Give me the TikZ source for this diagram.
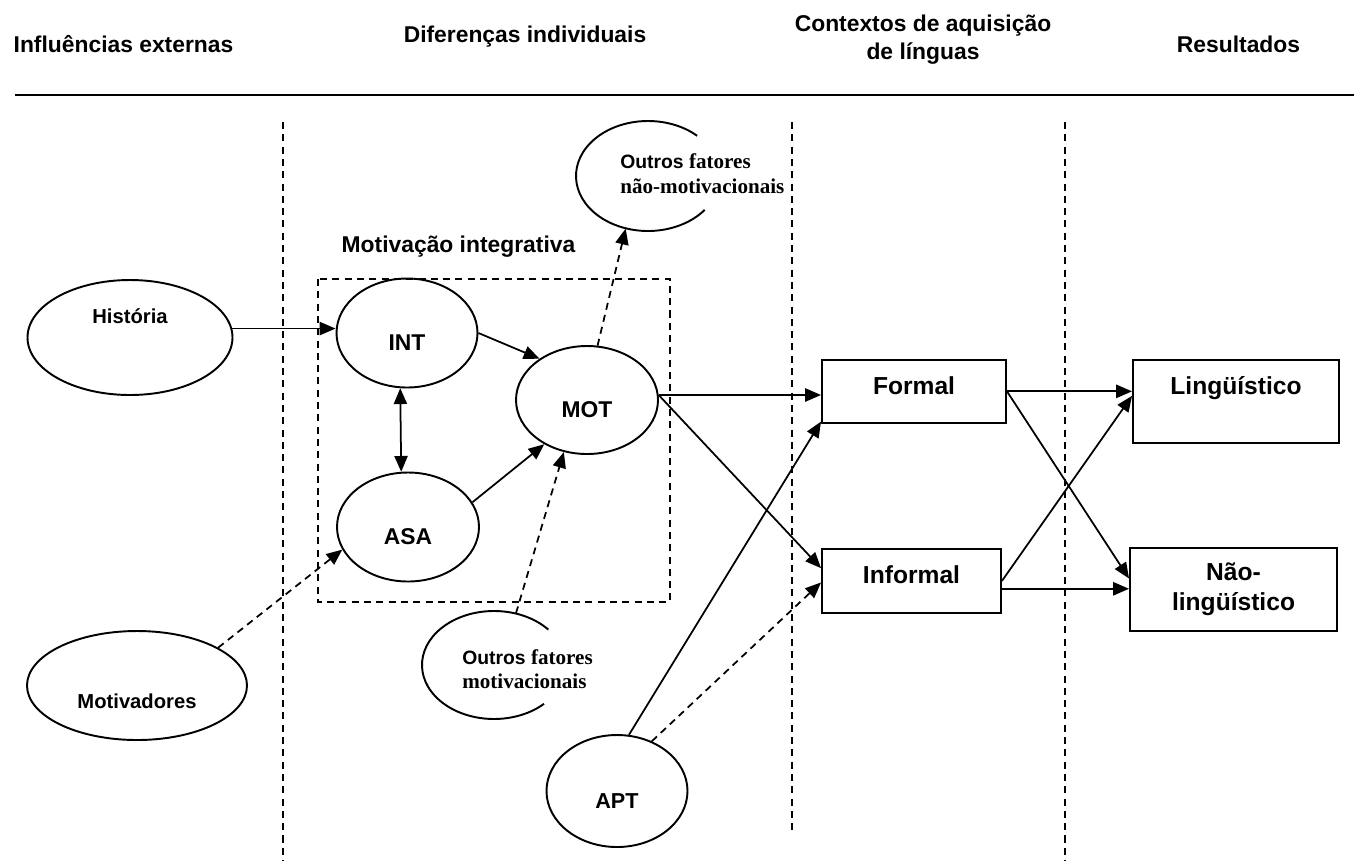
\documentclass[tikz,border=0pt]{standalone}
\usepackage{fontspec}
\setmainfont{Liberation Sans}
\newfontfamily\timesfont{Liberation Serif}
\usepackage{tikz}
\usetikzlibrary{arrows.meta, shapes.geometric, positioning}

\begin{document}
\begin{tikzpicture}
\tikzstyle{vertex} = [
	shape=ellipse,
	draw=black, %draw the border of the node
	line width=1.1pt,
	inner sep=0pt,
	font=\bfseries\fontsize{13}{15}\selectfont,
	text height=20pt, %label sits a bit below the centre
	text depth=0pt
];
\tikzstyle{context} = [
	shape=rectangle,
	draw=black,
	line width=1.1pt,
	inner sep=0pt,
	anchor=north,
	font=\bfseries\fontsize{14}{17}\selectfont
];
\tikzstyle{heading} = [
	anchor=base,
	font=\bfseries\fontsize{13}{16}\selectfont
];
\tikzstyle{others} = [
	anchor=west,
	align=left,
	inner sep=0pt,
	font=\bfseries\fontsize{11}{14}\selectfont
];
\tikzstyle{separator} = [
	line width=1pt,
	dash pattern=on 4pt off 3pt
];
\tikzstyle{influence} = [
	-{Triangle[length=9pt,width=7.5pt]},
	line width=1pt,
	color=black
];

\useasboundingbox (0,0) rectangle (27.08,-17.22);

%column headings
\node[heading](hInf) at (2.47,-1.04) {Influências externas};
\node[heading](hDif) at (10.50,-0.84) {Diferenças individuais};
\node[heading, anchor=center, align=center](hCon) at (18.46,-0.80) {Contextos de aquisição\\de línguas};
\node[heading](hRes) at (24.77,-1.04) {Resultados};
\draw[line width=1.1pt] (0.30,-1.90) -- (27.08,-1.90);

%column separators
\draw[separator] (5.66,-2.44) -- (5.66,-17.22);
\draw[separator] (15.84,-2.44) -- (15.84,-16.70);
\draw[separator] (21.30,-2.44) -- (21.30,-17.22);

%integrative motivation
\draw[separator] (6.36,-5.58) rectangle (13.40,-12.04);
\node[heading](grupo) at (9.17,-5.04) {Motivação integrativa};

\node[vertex, minimum width=4.10cm, minimum height=2.30cm, text height=0pt, text depth=15.6pt, font=\bfseries\fontsize{11.5}{14}\selectfont](historia) at (2.60,-6.75) {História};
\node[vertex, minimum width=4.40cm, minimum height=2.18cm, text height=26pt, font=\bfseries\fontsize{11.5}{14}\selectfont](motivadores) at (2.74,-13.71) {Motivadores};
\node[vertex, minimum width=2.82cm, minimum height=2.18cm](int) at (8.14,-6.66) {INT};
\node[vertex, minimum width=2.84cm, minimum height=2.18cm](asa) at (8.16,-10.54) {ASA};
\node[vertex, minimum width=2.84cm, minimum height=2.16cm](mot) at (11.74,-8.00) {MOT};
\node[vertex, minimum width=2.82cm, minimum height=2.24cm, font=\bfseries\fontsize{12.3}{15}\selectfont](apt) at (12.34,-15.82) {APT};

%open ellipses
\node[shape=ellipse, minimum width=2.88cm, minimum height=2.20cm, inner sep=0pt](outrosNM) at (12.96,-3.52) {};
\draw[line width=1.1pt] (outrosNM.center) ++(47:1.44cm and 1.10cm) arc[start angle=47, end angle=322, x radius=1.44cm, y radius=1.10cm];
\node[others](outrosNMtxt) at (12.40,-3.47) {Outros {\timesfont\fontsize{12}{14}\selectfont fatores}\\{\timesfont\fontsize{12}{14}\selectfont não-motivacionais}};

\node[shape=ellipse, minimum width=2.88cm, minimum height=2.16cm, inner sep=0pt](outrosM) at (9.88,-13.30) {};
\draw[line width=1.1pt] (outrosM.center) ++(41:1.44cm and 1.08cm) arc[start angle=41, end angle=314, x radius=1.44cm, y radius=1.08cm];
\node[others](outrosMtxt) at (9.24,-13.38) {Outros {\timesfont\fontsize{12}{14}\selectfont fatores}\\{\timesfont\fontsize{12}{14}\selectfont motivacionais}};

%contexts and outcomes
\node[context, minimum width=3.68cm, text height=19.7pt, text depth=16pt](formal) at (18.28,-7.18) {Formal};
\node[context, minimum width=3.58cm, text height=19.7pt, text depth=16.6pt](informal) at (18.23,-10.96) {Informal};
\node[context, minimum width=4.12cm, text height=19.7pt, text depth=27.3pt](linguistico) at (24.72,-7.18) {Lingüístico};
\node[context, anchor=center, align=center, minimum width=4.14cm, minimum height=1.66cm](naoling) at (24.67,-11.79) {Não-\\lingüístico};

%direct influences
\draw[influence] (historia.5) -- (historia.5 -| int.west);
\draw[influence] (int.east) -- (mot.139);
\draw[influence] (asa.21) -- (mot.226);
\draw[influence] (mot.4) -- (mot.4 -| formal.west);
\draw[influence] (mot.4) -- (informal.172);
\draw[influence] (apt.78) -- (formal.198);
\draw[influence] (formal.east) -- (formal.east -| linguistico.west);
\draw[influence] (formal.east) -- (naoling.174);
\draw[influence] (informal.east) -- (linguistico.177);
\draw[influence] (informal.355) -- (informal.355 -| naoling.west);

%weaker influences
\draw[influence, dash pattern=on 4pt off 3pt] (motivadores.25) -- (asa.199);
\draw[influence, dash pattern=on 4pt off 3pt] (outrosM.67) -- (mot.246);
\draw[influence, dash pattern=on 4pt off 3pt] (mot.79) -- (outrosNM.247);
\draw[influence, dash pattern=on 4pt off 3pt] (apt.55) -- (informal.181);

%mutual influence
\draw[influence, {Triangle[length=9pt,width=7.5pt]}-{Triangle[length=9pt,width=7.5pt]}] (int.263) -- (asa.97);

\end{tikzpicture}
\end{document}
